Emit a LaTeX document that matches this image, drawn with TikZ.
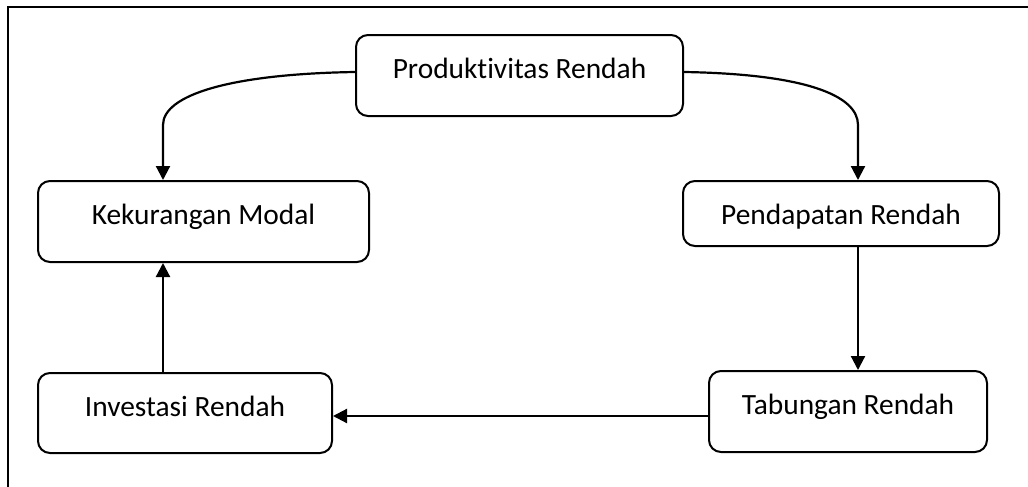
\documentclass[tikz,border=0pt]{standalone}
\usepackage{fontspec}
\setmainfont{Carlito}[Ligatures=NoCommon]
\usetikzlibrary{arrows.meta, calc}

\begin{document}
\begin{tikzpicture}[
        x=0.5pt, y=-0.5pt,
        stage/.style={
            draw,
            line width=1pt,
            rounded corners=6pt,
            inner sep=0pt,
            anchor=north west,
            text height=21.5pt,
            font=\fontsize{14.7}{17}\selectfont,
            align=center
        },
        arrow/.style={-{Triangle[length=7pt, width=7pt]}, line width=1.1pt}
    ]
        \useasboundingbox (0,0) rectangle (1028,487);
        % frame
        \draw[line width=1pt] (8,487) -- (8,7) -- (1028,7);

        \node[stage, minimum width=163.5pt, text depth=19pt] (produktivitas) at (355,34) {Produktivitas Rendah};
        \node[stage, minimum width=165.5pt, text depth=19pt] (modal) at (37,180) {Kekurangan Modal};
        \node[stage, minimum width=158pt, text depth=11pt] (pendapatan) at (682,180) {Pendapatan Rendah};
        \node[stage, minimum width=147pt, text depth=18.5pt] (investasi) at (37,372) {Investasi Rendah};
        \node[stage, minimum width=139pt, text depth=19pt] (tabungan) at (708,370) {Tabungan Rendah};

        \draw[arrow] ($(produktivitas.north west)+(0,38)$) .. controls +(-125,2) and +(0,-30) .. ($(modal.north west)+(126,-55)$) -- ($(modal.north west)+(126,0)$);
        \draw[arrow] ($(produktivitas.north east)+(0,38)$) .. controls +(120,2) and +(0,-30) .. ($(pendapatan.north west)+(176,-55)$) -- ($(pendapatan.north west)+(176,0)$);
        \draw[arrow] ($(pendapatan.south west)+(176,0)$) -- ($(tabungan.north west)+(150,0)$);
        \draw[arrow] ($(tabungan.north west)+(0,46)$) -- ($(investasi.north east)+(0,44)$);
        \draw[arrow] ($(investasi.north west)+(126,0)$) -- ($(modal.south west)+(126,0)$);
    \end{tikzpicture}
\end{document}
